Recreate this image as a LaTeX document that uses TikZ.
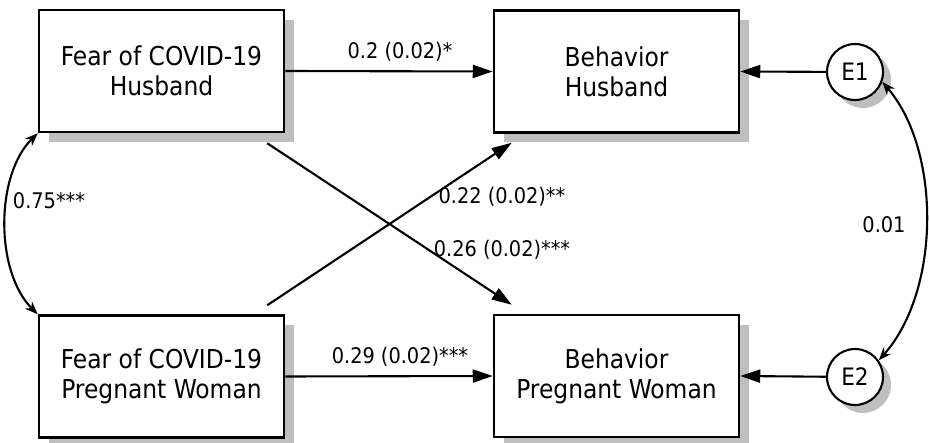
\documentclass[tikz,border=0pt]{standalone}
\usepackage{fontspec}
\setmainfont{DejaVu Sans Condensed}
\usetikzlibrary{arrows.meta,shadows,calc}
\begin{document}
\begin{tikzpicture}[x=1pt,y=-1pt,
 box/.style={draw, line width=2.5pt, fill=white, minimum width=245pt, minimum height=122pt, align=center, font=\fontsize{26}{30}\selectfont, general shadow={fill=black!25, shadow xshift=10pt, shadow yshift=-10pt}},
 err/.style={draw, circle, line width=2.1pt, fill=white, minimum size=56pt, inner sep=0pt, font=\fontsize{24}{28}\selectfont, general shadow={fill=black!25, shadow xshift=8pt, shadow yshift=-8pt}},
 conn/.style={line width=2.1pt, -{Triangle[length=20pt,width=13pt]}},
 cov/.style={line width=2.1pt, {Stealth[length=13pt,width=10pt]}-{Stealth[length=13pt,width=10pt]}},
 lab/.style={font=\fontsize{21.5}{25}\selectfont, inner sep=0pt}
]
\useasboundingbox[fill=white] (0,0) rectangle (929,443);
\node[box] (fh) at (161.5,71) {Fear of COVID-19\\Husband};
\node[box] (fw) at (161.5,376.5) {Fear of COVID-19\\Pregnant Woman};
\node[box] (bh) at (616.5,71.5) {Behavior\\Husband};
\node[box] (bw) at (616.5,376) {Behavior\\Pregnant Woman};
\node[err] (e1) at (855,72) {E1};
\node[err] (e2) at (855,377) {E2};

\draw[conn] (fh.east) -- (bh.west);
\draw[conn] (fw.east) -- (bw.west);
\node[lab] (l2) at (400,52) {0.2 (0.02)*};
\node[lab] (l29) at (400,357) {0.29 (0.02)***};
\draw[conn] (e1) -- (bh.east);
\draw[conn] (e2) -- (bw.east);

\coordinate (a1) at ($(fh.south east)+(-18,10)$);
\coordinate (a2) at ($(bw.north west)+(19,-9)$);
\coordinate (b1) at ($(fw.north east)+(-18,-9)$);
\coordinate (b2) at ($(bh.south west)+(19,9)$);
\draw[conn] (a1) -- (a2);
\draw[conn] (b1) -- (b2);
\node[lab] (l22) at (502,197) {0.22 (0.02)**};
\node[lab] (l26) at (502,250) {0.26 (0.02)***};

\draw[cov] (fh.south west) .. controls (-5,175) and (-5,272) .. (fw.north west);
\node[lab] (l75) at (49,201) {0.75***};

\draw[cov] (e1.-20) .. controls (941,150) and (941,290) .. (e2.35);
\node[lab] (l01) at (884,225) {0.01};
\end{tikzpicture}
\end{document}
